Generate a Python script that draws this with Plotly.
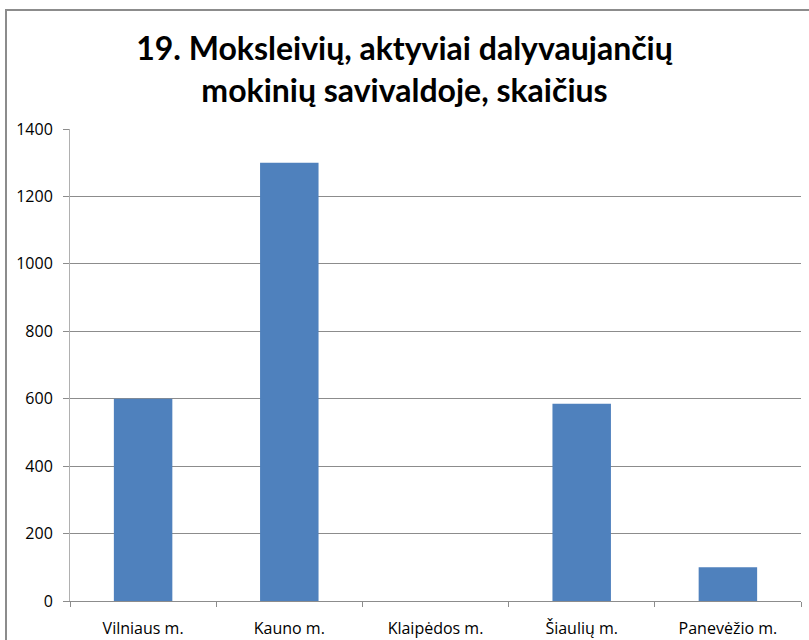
import plotly.graph_objects as go

categories = ["Vilniaus m.", "Kauno m.", "Klaipėdos m.", "Šiaulių m.", "Panevėžio m."]
values = [600, 1300, 0, 585, 100]
y_ticks = [0, 200, 400, 600, 800, 1000, 1200, 1400]
title_text = "19. Moksleivių, aktyviai dalyvaujančių<br>mokinių savivaldoje, skaičius"

TITLE_FONT = "Lato"
TICK_FONT = "Open Sans"

PLOT_L, PLOT_R, PLOT_T, PLOT_B = 70, 801, 129, 601
PW = PLOT_R - PLOT_L
PH = PLOT_B - PLOT_T

fig = go.Figure(
    go.Bar(x=categories, y=values, marker=dict(color="#4F81BD", line=dict(width=0)))
)

fig.update_layout(
    width=809,
    height=640,
    margin=dict(l=PLOT_L, r=809 - PLOT_R, t=PLOT_T, b=640 - PLOT_B),
    paper_bgcolor="white",
    plot_bgcolor="white",
    bargap=0.6,
    showlegend=False,
    font=dict(family=TICK_FONT, color="black"),
    title=dict(
        text=title_text,
        x=0.5,
        xref="container",
        xanchor="center",
        y=1 - 60 / 640,
        yref="container",
        yanchor="middle",
        font=dict(family=TITLE_FONT, size=32, color="black", weight="bold"),
    ),
    shapes=[
        dict(
            type="rect",
            xref="paper",
            yref="paper",
            x0=(6 - PLOT_L) / PW,
            x1=1.05,
            y0=-0.2,
            y1=(PLOT_B - 10) / PH,
            line=dict(color="#8c8c8c", width=2),
            fillcolor="rgba(0,0,0,0)",
            layer="below",
        )
    ],
)

fig.update_yaxes(
    range=[0, 1400],
    tickvals=y_ticks,
    showgrid=True,
    gridcolor="#8c8c8c",
    gridwidth=1,
    showline=True,
    linecolor="#b0b0b0",
    linewidth=1,
    ticks="outside",
    ticklen=6,
    tickcolor="#8c8c8c",
    tickfont=dict(family=TICK_FONT, size=16, color="black"),
    ticklabelstandoff=7,
    zeroline=False,
    automargin=False,
)

fig.update_xaxes(
    showline=True,
    linecolor="#8c8c8c",
    linewidth=1,
    ticks="outside",
    tickson="boundaries",
    ticklen=5,
    tickcolor="#8c8c8c",
    tickfont=dict(family=TICK_FONT, size=16, color="black"),
    ticklabelstandoff=13,
    showgrid=False,
    automargin=False,
)

fig.write_html(
    "out.html",
    config={"displayModeBar": False},
    post_script="document.body.style.margin='0';document.body.style.padding='0';",
)
